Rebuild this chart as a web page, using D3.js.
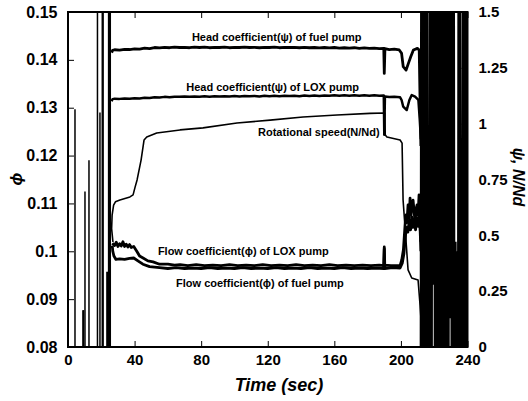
<!DOCTYPE html>
<html>
<head>
<meta charset="utf-8">
<script src="https://cdn.jsdelivr.net/npm/d3@7"></script>
<style>
  body { margin: 0; background: #fff; }
  text { font-family: "Liberation Sans", Arial, sans-serif; font-weight: bold; fill: #000; }
</style>
</head>
<body>
<svg id="chart" width="528" height="401"></svg>
<script>
// axis ticks
var timeTicks = [0, 40, 80, 120, 160, 200, 240];
var phiTicks = [0.08, 0.09, 0.10, 0.11, 0.12, 0.13, 0.14, 0.15];
var phiLabels = ["0.08", "0.09", "0.1", "0.11", "0.12", "0.13", "0.14", "0.15"];
var psiTicks = [0, 0.25, 0.5, 0.75, 1, 1.25, 1.5];
var psiLabels = ["0", "0.25", "0.5", "0.75", "1", "1.25", "1.5"];

// head coefficient of fuel pump [time, psi]
var headFuel = [[26.2,1.318],[26.8,1.328],[28,1.331],[31,1.329],[34,1.333],[37,1.332],[40,1.335],[43,1.334],
  [46,1.338],[49,1.336],[52,1.341],[55,1.339],[58,1.342],[61,1.340],[64,1.343],[67,1.341],[70,1.342],[73,1.340],
  [76,1.343],[79,1.341],[82,1.343],[85,1.340],[88,1.342],[91,1.341],[94,1.343],[97,1.340],[100,1.342],[103,1.341],
  [106,1.343],[109,1.341],[112,1.342],[115,1.340],[118,1.342],[121,1.341],[124,1.343],[127,1.340],[130,1.342],
  [133,1.341],[136,1.342],[139,1.340],[142,1.342],[145,1.340],[148,1.341],[151,1.339],[154,1.341],[157,1.339],
  [160,1.341],[163,1.338],[166,1.340],[169,1.338],[172,1.340],[175,1.337],[178,1.339],[181,1.337],[184,1.338],
  [187,1.336],[189.7,1.337],[190,1.225],[190.4,1.336],[193,1.332],[196,1.334],[199,1.330],[200.4,1.315],
  [201.4,1.255],[203.1,1.240],[204.5,1.270],[205.9,1.300],[207.5,1.330],[209.9,1.337],[211.0,1.330],[211.5,1.10],[212,0.9]];

// head coefficient of LOX pump [time, psi]
var headLox = [[26.2,1.100],[26.8,1.110],[28,1.112],[31,1.111],[34,1.113],[37,1.112],[40,1.114],[43,1.113],
  [46,1.116],[49,1.115],[52,1.118],[55,1.117],[58,1.120],[61,1.118],[64,1.121],[67,1.120],[70,1.122],[73,1.120],
  [76,1.122],[79,1.121],[82,1.123],[85,1.121],[88,1.123],[91,1.122],[94,1.123],[97,1.122],[100,1.124],[103,1.122],
  [106,1.124],[109,1.123],[112,1.124],[115,1.122],[118,1.125],[121,1.123],[124,1.125],[127,1.123],[130,1.125],
  [133,1.124],[136,1.125],[139,1.123],[142,1.126],[145,1.124],[148,1.126],[151,1.124],[154,1.126],[157,1.125],
  [160,1.127],[163,1.125],[166,1.127],[169,1.125],[172,1.127],[175,1.125],[178,1.127],[181,1.125],[184,1.127],
  [187,1.125],[189.7,1.126],[190,0.95],[190.4,1.122],[193,1.119],[196,1.121],[199.5,1.118],[200.4,1.106],
  [201.4,1.076],[203.5,1.061],[205.1,1.106],[206.5,1.128],[208.5,1.121],[210.5,1.106],[211.3,1.02],[212,0.93]];

// rotational speed N/Nd [time, ratio]
var rotSpeed = [[27.0,0.47],[26.2,0.53],[26.5,0.59],[27.4,0.635],[28.5,0.650],[31.2,0.658],[37.2,0.672],
  [39.1,0.681],[40.3,0.716],[41.5,0.748],[43.9,0.837],[45.7,0.927],[47.3,0.940],[53.3,0.958],[67.3,0.972],
  [81.1,0.981],[101.5,1.003],[121.4,1.016],[141.2,1.030],[161.6,1.039],[181.4,1.046],[190.3,1.048],[190.6,0.949],
  [191.6,0.940],[199.5,0.927],[200.7,0.913],[201.3,0.658],[204.3,0.345],[206.5,0.309],[210.3,0.300],
  [211.5,0.188],[212.5,0.076],[213.0,0]];

// flow coefficient of LOX pump [time, phi]
var flowLox = [[26.6,0.1017],[28,0.1012],[29,0.1019],[30,0.1010],[31,0.1016],[32,0.1011],[33,0.1020],[34,0.1010],
  [35,0.1015],[36,0.1009],[37,0.1014],[38,0.1008],[39.5,0.1010],[41.5,0.0999],[43,0.0990],[45.1,0.0986],
  [48,0.0980],[51.1,0.0978],[55,0.0973],[60,0.0973],[64,0.0971],[67.3,0.0972],[72,0.0970],[77,0.0972],[82,0.0970],
  [87,0.0971],[92,0.0970],[97,0.0972],[102,0.0970],[107,0.0971],[112,0.0970],[117,0.0972],[122,0.0970],[127,0.0971],
  [132,0.0970],[137,0.0972],[142,0.0970],[147,0.0971],[152,0.0970],[157,0.0972],[162,0.0970],[167,0.0971],
  [172,0.0970],[177,0.0971],[182,0.0970],[187,0.0971],[189.7,0.0970],[190,0.1009],[190.3,0.0971],[194,0.0970],
  [199.5,0.0970],[200.5,0.0982],[201.5,0.1003],[202.5,0.1055],[203.1,0.1076],[203.6,0.1060],[204.3,0.1097],
  [205.0,0.1070],[205.5,0.1111],[206.1,0.1076],[206.8,0.1100],[207.3,0.1107],[208.0,0.1080],[208.5,0.1061],
  [209.2,0.1090],[209.7,0.1097],[210.3,0.1075],[210.9,0.1118],[211.5,0.1050],[212,0.1000]];

// flow coefficient of fuel pump [time, phi]
var flowFuel = [[26.6,0.1012],[26.9,0.1000],[27.6,0.0990],[28.8,0.0983],[31,0.0984],[34,0.0983],[37,0.0985],
  [39.5,0.0986],[42,0.0980],[45,0.0973],[49,0.0968],[55,0.0966],[60,0.0964],[65,0.0966],[70,0.0964],[75,0.0965],
  [80,0.0964],[85,0.0966],[90,0.0964],[95,0.0965],[100,0.0964],[105,0.0966],[110,0.0964],[115,0.0965],[120,0.0964],
  [125,0.0966],[130,0.0964],[135,0.0965],[140,0.0964],[145,0.0966],[150,0.0964],[155,0.0965],[160,0.0964],
  [165,0.0966],[170,0.0964],[175,0.0965],[180,0.0964],[185,0.0965],[189.7,0.0964],[190,0.1005],[190.3,0.0964],
  [195,0.0966],[199.5,0.0965],[200.8,0.0975],[201.8,0.0995],[202.8,0.1035],[203.5,0.1050],[204.2,0.1040],
  [205,0.1065],[205.8,0.1045],[206.5,0.1072],[207.3,0.1050],[208,0.1068],[208.8,0.1045],[209.6,0.1070],
  [210.4,0.1052],[211.2,0.1078],[212,0.1020]];

// vertical spikes before start-up [time, top phi]
var spikes = [[4.2,0.1297],[9.0,0.0877],[9.3,0.0877],[10.2,0.1125],[12.6,0.119],[17.7,0.16],[19.2,0.129],
  [20.6,0.16],[21.1,0.16],[23.4,0.0957],[23.8,0.0957],[24.4,0.16],[24.9,0.16],[25.4,0.16]];

// oscillating signal after shut-down [time, phi]
var noise = [[211.8,0.07],[212.1,0.16],[212.4,0.07],[212.7,0.16],[213.0,0.07],[213.3,0.16],[213.6,0.07],
  [213.9,0.16],[214.2,0.07],[214.5,0.16],[214.8,0.07],[215.1,0.16],[215.4,0.07],[215.7,0.16],[216.0,0.07],
  [216.8,0.086],[217.1,0.16],[217.4,0.07],[217.7,0.16],[218.0,0.07],[218.3,0.16],[218.6,0.07],[218.9,0.16],
  [219.7,0.093],[220.0,0.16],[220.3,0.07],[220.6,0.16],[220.9,0.07],[221.2,0.16],[221.5,0.07],[221.8,0.16],
  [222.1,0.07],[222.4,0.16],[222.7,0.07],[223.0,0.16],[223.3,0.07],[223.6,0.16],[223.9,0.07],[224.2,0.16],
  [224.5,0.07],[224.8,0.16],[225.1,0.07],[225.4,0.16],[225.7,0.07],[226.0,0.16],[226.3,0.07],[226.6,0.16],
  [226.9,0.07],[227.2,0.16],[227.5,0.07],[227.8,0.16],[228.1,0.07],[228.4,0.16],[228.7,0.07],[229.0,0.16],
  [229.8,0.086],[230.1,0.16],[230.4,0.07],[230.7,0.16],[231.0,0.07],[231.3,0.16],[231.6,0.07],[231.9,0.16],
  [232.2,0.07],[232.9,0.102],[233.3,0.07],[233.8,0.100],[234.2,0.07],[234.5,0.16],[234.8,0.07],[235.1,0.16],
  [235.4,0.07],[235.7,0.16],[236.0,0.07],[236.8,0.095],[237.2,0.16],[237.5,0.07],[237.8,0.16],[238.1,0.07],
  [238.4,0.16],[238.7,0.07],[239.0,0.16],[239.3,0.07],[239.6,0.16],[239.9,0.07],[240.2,0.16]];

// curve labels [text, time, value, axis]
var notes = [
  ["Head coefficient(\u03c8) of fuel pump", 125.4, 1.371, "psi"],
  ["Head coefficient(\u03c8) of LOX pump", 122.9, 1.148, "psi"],
  ["Rotational speed(N/Nd)", 150.7, 0.945, "psi"],
  ["Flow coefficient(\u03d5) of LOX pump", 105.3, 0.09912, "phi"],
  ["Flow coefficient(\u03d5) of fuel pump", 115.3, 0.09254, "phi"]
];

var svg = d3.select("#chart"),
    WIDTH = 528,
    HEIGHT = 401,
    MARGINS = { top: 12, right: 60.5, bottom: 54, left: 68 };

var x = d3.scaleLinear().domain([0, 240]).range([MARGINS.left, WIDTH - MARGINS.right]);
var yPhi = d3.scaleLinear().domain([0.08, 0.15]).range([HEIGHT - MARGINS.bottom, MARGINS.top]);
var yPsi = d3.scaleLinear().domain([0, 1.5]).range([HEIGHT - MARGINS.bottom, MARGINS.top]);

svg.append("rect").attr("width", WIDTH).attr("height", HEIGHT).attr("fill", "#fff");

svg.append("clipPath").attr("id", "plotclip")
  .append("rect")
  .attr("x", x(0)).attr("y", yPhi(0.15))
  .attr("width", x(240) - x(0)).attr("height", yPhi(0.08) - yPhi(0.15));

var plot = svg.append("g").attr("clip-path", "url(#plotclip)");

var linePhi = d3.line()
  .x(function(d) { return x(d[0]); })
  .y(function(d) { return yPhi(d[1]); });
var linePsi = d3.line()
  .x(function(d) { return x(d[0]); })
  .y(function(d) { return yPsi(d[1]); });

// spikes
plot.selectAll("line.spike").data(spikes).enter().append("line")
  .attr("class", "spike")
  .attr("x1", function(d) { return x(d[0]); })
  .attr("x2", function(d) { return x(d[0]); })
  .attr("y1", yPhi(0.07))
  .attr("y2", function(d) { return yPhi(d[1]); })
  .attr("stroke", "#000")
  .attr("stroke-width", 1.5);

plot.append("path").attr("d", linePhi(noise))
  .attr("fill", "none").attr("stroke", "#000").attr("stroke-width", 1.9);

plot.append("path").attr("d", linePsi(headFuel))
  .attr("fill", "none").attr("stroke", "#000").attr("stroke-width", 2.8).attr("stroke-linejoin", "round");
plot.append("path").attr("d", linePsi(headLox))
  .attr("fill", "none").attr("stroke", "#000").attr("stroke-width", 2.5).attr("stroke-linejoin", "round");
plot.append("path").attr("d", linePsi(rotSpeed))
  .attr("fill", "none").attr("stroke", "#000").attr("stroke-width", 1.6).attr("stroke-linejoin", "round");
plot.append("path").attr("d", linePhi(flowLox))
  .attr("fill", "none").attr("stroke", "#000").attr("stroke-width", 2.8).attr("stroke-linejoin", "round");
plot.append("path").attr("d", linePhi(flowFuel))
  .attr("fill", "none").attr("stroke", "#000").attr("stroke-width", 2.8).attr("stroke-linejoin", "round");

// curve labels
svg.selectAll("text.note").data(notes).enter().append("text")
  .attr("class", "note")
  .attr("x", function(d) { return x(d[1]); })
  .attr("y", function(d) { return d[3] == "psi" ? yPsi(d[2]) : yPhi(d[2]); })
  .attr("text-anchor", "middle")
  .style("font-size", "11px")
  .text(function(d) { return d[0]; });

// axes, ticks pointing inward
var leftAxis = d3.axisLeft(yPhi).tickValues(phiTicks)
  .tickFormat(function(d, i) { return phiLabels[i]; })
  .tickSizeInner(-6).tickSizeOuter(0).tickPadding(10.5);
var rightAxis = d3.axisRight(yPsi).tickValues(psiTicks)
  .tickFormat(function(d, i) { return psiLabels[i]; })
  .tickSizeInner(-6).tickSizeOuter(0).tickPadding(11);
var bottomAxis = d3.axisBottom(x).tickValues(timeTicks)
  .tickFormat(d3.format("d"))
  .tickSizeInner(-6).tickSizeOuter(0).tickPadding(7);
var topAxis = d3.axisTop(x).tickValues(timeTicks)
  .tickFormat("").tickSizeInner(-6).tickSizeOuter(0);

function styleAxis(g, size) {
  g.select(".domain").remove();
  g.selectAll(".tick line").attr("stroke", "#000").attr("stroke-width", 1);
  g.selectAll(".tick text").attr("fill", "#000")
    .style("font-family", '"Liberation Sans", Arial, sans-serif')
    .style("font-weight", "bold").style("font-size", size);
}

svg.append("g").attr("transform", "translate(" + x(0) + ",0)").call(leftAxis).call(styleAxis, "16px");
svg.append("g").attr("transform", "translate(" + x(240) + ",0)").call(rightAxis).call(styleAxis, "15px");
svg.append("g").attr("transform", "translate(0," + yPhi(0.08) + ")").call(bottomAxis).call(styleAxis, "15px");
svg.append("g").attr("transform", "translate(0," + yPhi(0.15) + ")").call(topAxis).call(styleAxis, "15px");

// frame
svg.append("rect")
  .attr("x", x(0)).attr("y", yPhi(0.15))
  .attr("width", x(240) - x(0)).attr("height", yPhi(0.08) - yPhi(0.15))
  .attr("fill", "none").attr("stroke", "#000").attr("stroke-width", 2);

// axis titles
svg.append("text")
  .attr("x", 279).attr("y", 391)
  .attr("text-anchor", "middle")
  .style("font-size", "18px").style("font-style", "italic")
  .text("Time (sec)");

svg.append("text")
  .attr("transform", "translate(22,179) rotate(-90)")
  .attr("text-anchor", "middle")
  .style("font-size", "17px").style("font-style", "italic")
  .text("\u03d5");

svg.append("text")
  .attr("transform", "translate(513,177) rotate(90)")
  .attr("text-anchor", "middle")
  .style("font-size", "16px").style("font-style", "italic")
  .text("\u03c8, N/Nd");
</script>
</body>
</html>
